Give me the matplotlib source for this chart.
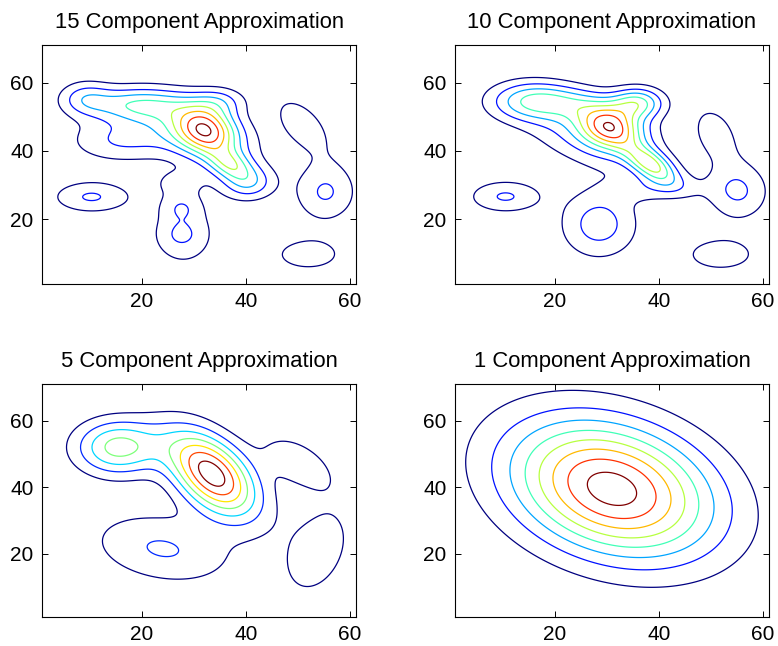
import numpy as np
import matplotlib
matplotlib.use("Agg")
import matplotlib.pyplot as plt

plt.rcParams['font.family'] = ['Liberation Sans', 'DejaVu Sans']

# Gaussian components: (mean x, mean y, sd x, sd y, rho, height)
gmm15 = [
    (32.3, 46.2, 4.1, 5.0, -0.2, 5.65),
    (30.0, 46.0, 8.0, 7.0, -0.5, 2.6),
    (19.0, 53.5, 7.0, 3.5, 0.0, 3.2),
    (9.0, 55.5, 3.5, 3.5, 0.0, 2.0),
    (16.0, 43.0, 7.0, 4.5, 0.0, 2.0),
    (35.0, 54.5, 3.5, 3.0, 0.0, 1.8),
    (37.0, 36.0, 3.0, 3.2, -0.3, 3.4),
    (40.5, 30.5, 3.5, 3.5, 0.0, 2.6),
    (27.0, 31.0, 4.0, 3.0, 0.0, 0.9),
    (10.3, 26.5, 5.3, 3.35, 0.0, 2.1),
    (52.0, 9.6, 6.0, 4.3, 0.0, 1.4),
    (27.6, 23.3, 2.3, 2.6, 0.0, 1.1),
    (27.6, 15.5, 2.3, 2.8, 0.0, 0.95),
    (28.0, 16.0, 5.5, 9.0, 0.0, 1.4),
    (55.3, 27.8, 4.2, 6.0, 0.0, 2.1),
    (51.0, 47.5, 4.5, 7.0, -0.55, 1.5),
]

gmm10 = [
    (30.7, 47.0, 4.1, 4.3, -0.2, 5.82),
    (27.0, 45.0, 9.0, 7.5, -0.45, 2.4),
    (15.0, 54.5, 5.5, 4.0, 0.0, 3.1),
    (24.0, 54.0, 6.0, 3.5, -0.2, 1.9),
    (36.0, 54.0, 3.5, 3.2, 0.0, 4.0),
    (38.5, 36.0, 3.5, 4.0, -0.6, 4.8),
    (40.0, 29.0, 6.0, 2.8, 0.0, 1.3),
    (10.5, 26.6, 5.0, 3.4, 0.0, 2.1),
    (51.9, 9.6, 5.8, 4.1, 0.0, 1.5),
    (28.5, 18.5, 5.2, 7.0, 0.0, 2.5),
    (55.3, 28.0, 4.2, 6.0, 0.0, 2.1),
    (51.0, 45.0, 3.6, 6.8, -0.35, 1.45),
]

gmm5 = [
    (33.5, 44.0, 6.0, 9.0, -0.5, 7.6),
    (15.5, 52.0, 5.8, 5.8, 0.0, 4.4),
    (24.0, 21.5, 9.5, 7.5, -0.25, 2.1),
    (50.0, 47.5, 5.0, 6.0, -0.5, 1.7),
    (53.8, 20.8, 5.5, 11.5, 0.35, 1.5),
]

gmm1 = [
    (31.0, 39.5, 13.6, 14.3, -0.27, 8.5),
]

titles = ['15 Component Approximation', '10 Component Approximation',
          '5 Component Approximation', '1 Component Approximation']
n_levels = [8, 8, 7, 8]
mixtures = [gmm15, gmm10, gmm5, gmm1]

x = np.linspace(0.5, 61.5, 400)
y = np.linspace(0.5, 71.5, 450)
X, Y = np.meshgrid(x, y)


def density(comps):
    Z = np.zeros_like(X)
    for mx, my, sx, sy, rho, h in comps:
        zx = (X - mx) / sx
        zy = (Y - my) / sy
        d2 = (zx**2 - 2 * rho * zx * zy + zy**2) / (1 - rho**2)
        Z += h * np.exp(-0.5 * d2)
    return Z


fig = plt.figure(figsize=(7.78, 6.46), dpi=100)
positions = [
    [0.054, 0.5604, 0.4036, 0.370],
    [0.5848, 0.5604, 0.4036, 0.370],
    [0.054, 0.0449, 0.4036, 0.3607],
    [0.5848, 0.0449, 0.4036, 0.3607],
]

for pos, comps, nl, title in zip(positions, mixtures, n_levels, titles):
    ax = fig.add_axes(pos)
    Z = density(comps)
    ax.contour(X, Y, Z, levels=np.arange(1, nl + 1), cmap='jet', linewidths=0.9)
    ax.set_xlim(0.8, 61.2)
    ax.set_ylim(1, 71)
    ax.set_xticks([20, 40, 60])
    ax.set_yticks([20, 40, 60])
    ax.tick_params(direction='in', top=True, right=True, length=4, width=0.7,
                   labelsize=15)
    ax.tick_params(axis='x', pad=6)
    ax.tick_params(axis='y', pad=6)
    for s in ax.spines.values():
        s.set_linewidth(0.8)
    ax.set_title(title, fontsize=15.8, pad=12)

fig.savefig('out.png', dpi=100, facecolor='white')
